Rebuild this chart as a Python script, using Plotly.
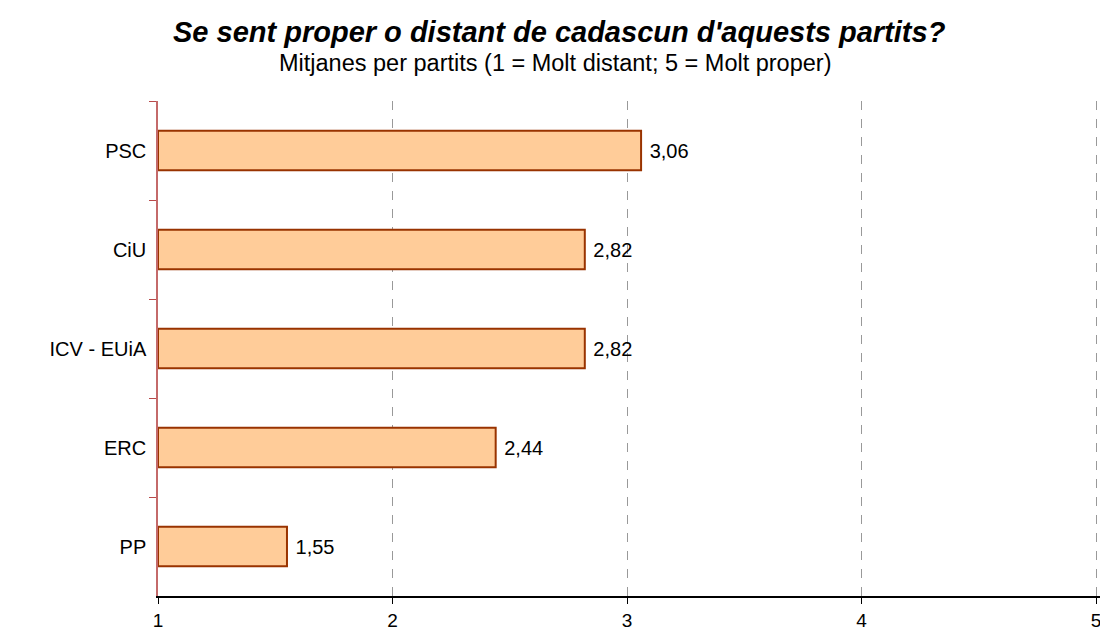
import plotly.graph_objects as go

categories = ["PSC", "CiU", "ICV - EUiA", "ERC", "PP"]
values = [3.06, 2.82, 2.82, 2.44, 1.55]
x_ticks = [1, 2, 3, 4, 5]

title = "<b><i>Se sent proper o distant de cadascun d'aquests partits?</i></b>"
subtitle = "Mitjanes per partits (1 = Molt distant; 5 = Molt proper)"

W, H = 1100, 634
L, R, T, B = 158, 0, 101, 38
base_val = 1

fig = go.Figure()
fig.add_trace(go.Bar(
    y=categories,
    x=[v - base_val for v in values],
    base=base_val,
    orientation="h",
    marker=dict(color="#FFCC99", line=dict(color="#993300", width=2)),
    text=[" " + f"{v:.2f}".replace(".", ",") for v in values],
    textposition="outside",
    textfont=dict(family="Liberation Sans, Arial", size=20, color="black"),
    cliponaxis=False,
    width=0.4,
))

fig.update_layout(
    width=W, height=H,
    margin=dict(l=L, r=R, t=T, b=B),
    paper_bgcolor="white", plot_bgcolor="white",
    font=dict(family="Liberation Sans, Arial", color="black"),
    showlegend=False,
    xaxis=dict(
        range=[1, 5.017], tickvals=x_ticks, ticktext=[str(t) for t in x_ticks],
        showgrid=True, gridcolor="#999999", griddash="dash", gridwidth=1,
        showline=True, linecolor="black", linewidth=1.5,
        ticks="outside", ticklen=6, tickcolor="black",
        tickfont=dict(size=19), zeroline=False,
        ticklabeloverflow="allow",
    ),
    yaxis=dict(
        autorange="reversed", type="category",
        tickson="boundaries", ticks="outside", ticklen=7,
        tickcolor="#B84A4A", showline=True, linecolor="#C46A6A", linewidth=1.5,
        showgrid=False, tickfont=dict(size=20), zeroline=False,
        ticklabelstandoff=6,
    ),
)

plot_w = W - L - R
plot_h = H - T - B
fig.add_annotation(text=title, xref="paper", yref="paper",
                   x=(559 - L) / plot_w, y=1 + (T - 32) / plot_h,
                   showarrow=False, font=dict(size=29, color="black"),
                   xanchor="center", yanchor="middle")
fig.add_annotation(text=subtitle, xref="paper", yref="paper",
                   x=(555 - L) / plot_w, y=1 + (T - 63) / plot_h,
                   showarrow=False, font=dict(size=23.5, color="black"),
                   xanchor="center", yanchor="middle")

fig.write_html(
    "out.html",
    config={"displayModeBar": False},
    post_script="document.body.style.margin='0';document.body.style.overflow='hidden';",
)
